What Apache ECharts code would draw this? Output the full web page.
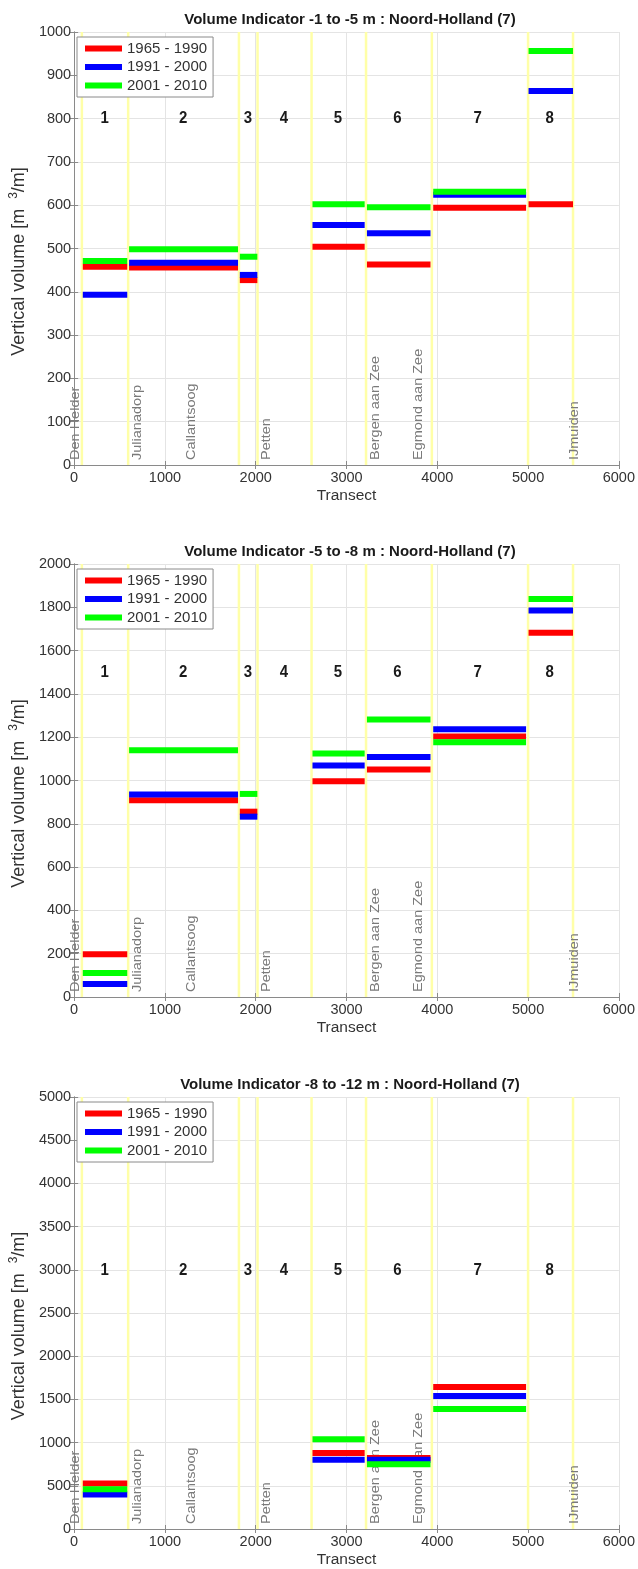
<!DOCTYPE html>
<html>
<head>
<meta charset="utf-8">
<script src="https://cdn.jsdelivr.net/npm/echarts@6/dist/echarts.min.js"></script>
<style>
html,body{margin:0;padding:0;background:#fff;}
#chart{width:638px;height:1569px;}
</style>
</head>
<body>
<div id="chart"></div>
<script>
// ---------------- DATA ----------------
const panelTitles = [
  'Volume Indicator -1 to -5 m : Noord-Holland (7)',
  'Volume Indicator -5 to -8 m : Noord-Holland (7)',
  'Volume Indicator -8 to -12 m : Noord-Holland (7)'
];
const yMaxes = [1000, 2000, 5000];
const yIntervals = [100, 200, 500];
const sectorLabelY = [800, 1500, 3000];

const periods = ['1965 - 1990', '1991 - 2000', '2001 - 2010'];
const periodColors = ['#ff0000', '#0000ff', '#00ff00'];

const sectorNames = ['1', '2', '3', '4', '5', '6', '7', '8'];
const sectorLabelX = [335, 1200, 1914, 2311, 2904, 3562, 4445, 5237];
const sectorStart = [95, 605, 1825, 2025, 2625, 3225, 3955, 5005];
const sectorEnd   = [585, 1805, 2018, 2610, 3200, 3925, 4978, 5495];

const boundaries = [85, 595, 1815, 2020, 2615, 3215, 3940, 5000, 5495];

const placeNames = ['Den Helder', 'Julianadorp', 'Callantsoog', 'Petten', 'Bergen aan Zee', 'Egmond aan Zee', 'IJmuiden'];
const placeX = [15, 695, 1291, 2120, 3318, 3793, 5510];

// panel 1 (-1 to -5 m)
const p1_1965 = [458, 456, 427, null, 504, 463, 594, 602];
const p1_1991 = [393, 467, 439, null, 554, 535, 624, 864];
const p1_2001 = [471, 498, 481, null, 602, 595, 631, 956];
// panel 2 (-5 to -8 m)
const p2_1965 = [197, 909, 856, null, 997, 1051, 1203, 1683];
const p2_1991 = [60, 935, 833, null, 1069, 1109, 1237, 1785];
const p2_2001 = [111, 1140, 938, null, 1125, 1282, 1177, 1838];
// panel 3 (-8 to -12 m)
const p3_1965 = [527, null, null, null, 880, 822, 1643, null];
const p3_1991 = [399, null, null, null, 802, 802, 1539, null];
const p3_2001 = [461, null, null, null, 1039, 748, 1388, null];

const panelValues = [
  [p1_1965, p1_1991, p1_2001],
  [p2_1965, p2_1991, p2_2001],
  [p3_1965, p3_1991, p3_2001]
];

// ---------------- LAYOUT ----------------
const FONT = 'Liberation Sans, Arial, Helvetica, sans-serif';
const gridLeft = 71, gridWidth = 548;
const gridTops = [32, 564, 1097];
const gridHeights = [433, 433, 432];
const axisColor = '#8a8a8a';
const textColor = '#333333';

const chart = echarts.init(document.getElementById('chart'), null, {renderer: 'canvas'});

const grids = [], xAxes = [], yAxes = [], series = [], titles = [], legends = [];

for (let p = 0; p < 3; p++) {
  grids.push({left: gridLeft, width: gridWidth, top: gridTops[p], height: gridHeights[p], containLabel: false});
  titles.push({
    text: panelTitles[p], left: gridLeft + gridWidth / 2, top: gridTops[p] - 25, textAlign: 'center',
    textStyle: {fontFamily: FONT, fontSize: 15, fontWeight: 'bold', color: '#1a1a1a'}
  });
  // bottom x
  xAxes.push({
    type: 'value', gridIndex: p, position: 'bottom', min: 0, max: 6000, interval: 1000,
    name: 'Transect', nameLocation: 'middle', nameGap: 23,
    nameTextStyle: {fontFamily: FONT, fontSize: 15.5, color: textColor},
    axisLine: {show: true, lineStyle: {color: axisColor, width: 1}},
    axisTick: {show: true, inside: true, length: 4, lineStyle: {color: axisColor}},
    axisLabel: {fontFamily: FONT, fontSize: 14.5, color: textColor, margin: 5, formatter: v => String(v)},
    splitLine: {show: true, lineStyle: {color: '#e4e4e4', width: 1}}
  });
  // top x (box)
  xAxes.push({
    type: 'value', gridIndex: p, position: 'top', min: 0, max: 6000, interval: 1000,
    axisLine: {show: true, lineStyle: {color: axisColor, width: 1}},
    axisTick: {show: true, inside: true, length: 4, lineStyle: {color: axisColor}},
    axisLabel: {show: false}, splitLine: {show: false}
  });
  // left y
  yAxes.push({
    type: 'value', gridIndex: p, position: 'left', min: 0, max: yMaxes[p], interval: yIntervals[p],
    name: 'Vertical volume [m  {sup|3}/m]', nameLocation: 'middle', nameGap: 41,
    nameTextStyle: {fontFamily: FONT, fontSize: 18, color: textColor, padding: [0, 26, 0, 0],
      rich: {sup: {fontFamily: FONT, fontSize: 12, color: textColor, verticalAlign: 'bottom', padding: [0, 0, 10, 0]}}},
    axisLine: {show: true, lineStyle: {color: axisColor, width: 1}},
    axisTick: {show: true, inside: true, length: 4, lineStyle: {color: axisColor}},
    axisLabel: {fontFamily: FONT, fontSize: 14.5, color: textColor, margin: 3, formatter: v => String(v)},
    splitLine: {show: true, lineStyle: {color: '#e4e4e4', width: 1}}
  });
  // right y (box)
  yAxes.push({
    type: 'value', gridIndex: p, position: 'right', min: 0, max: yMaxes[p], interval: yIntervals[p],
    axisLine: {show: true, lineStyle: {color: axisColor, width: 1}},
    axisTick: {show: true, inside: true, length: 4, lineStyle: {color: axisColor}},
    axisLabel: {show: false}, splitLine: {show: false}
  });

  const xi = 2 * p, yi = 2 * p;
  const yMax = yMaxes[p];

  // yellow sector boundary lines
  series.push({
    type: 'custom', name: 'boundaries', xAxisIndex: xi, yAxisIndex: yi, silent: true, z: 1,
    data: boundaries.map(b => [b]),
    encode: {x: 0},
    renderItem: function (params, api) {
      const x = api.value(0);
      const a = api.coord([x, 0]);
      const b = api.coord([x, yMax]);
      return {type: 'line', shape: {x1: a[0], y1: a[1], x2: b[0], y2: b[1]},
        style: {stroke: '#ffffa8', lineWidth: 2.5}};
    }
  });

  // place name labels (rotated)
  series.push({
    type: 'custom', name: 'places', xAxisIndex: xi, yAxisIndex: yi, silent: true, z: 3,
    data: placeX.map((x, i) => [x, 0, i]),
    encode: {x: 0, y: 1},
    renderItem: function (params, api) {
      const c = api.coord([api.value(0), api.value(1)]);
      return {type: 'text', x: c[0], y: c[1] - 5, rotation: Math.PI / 2, scaleX: 1.16, scaleY: 1,
        style: {text: placeNames[api.value(2)], fill: '#7a7a7a', fontFamily: FONT, fontSize: 12.5,
          align: 'left', verticalAlign: 'middle'}};
    }
  });

  // sector numbers
  series.push({
    type: 'custom', name: 'sectors', xAxisIndex: xi, yAxisIndex: yi, silent: true, z: 3,
    data: sectorLabelX.map((x, i) => [x, sectorLabelY[p], i]),
    encode: {x: 0, y: 1},
    renderItem: function (params, api) {
      const c = api.coord([api.value(0), api.value(1)]);
      return {type: 'text', x: c[0], y: c[1], scaleX: 1, scaleY: 1.15,
        style: {text: sectorNames[api.value(2)], fill: '#1a1a1a', fontFamily: FONT, fontSize: 15, fontWeight: 'bold',
          align: 'center', verticalAlign: 'middle'}};
    }
  });

  // period bars
  for (let k = 0; k < 3; k++) {
    const vals = panelValues[p][k];
    const data = [];
    vals.forEach((v, i) => { if (v !== null) data.push([sectorStart[i], sectorEnd[i], v]); });
    series.push({
      type: 'custom', name: periods[k], xAxisIndex: xi, yAxisIndex: yi, z: 5 + k,
      itemStyle: {color: periodColors[k]},
      data: data,
      encode: {x: [0, 1], y: 2},
      renderItem: function (params, api) {
        const s = api.coord([api.value(0), api.value(2)]);
        const e = api.coord([api.value(1), api.value(2)]);
        return {type: 'rect', shape: {x: s[0], y: s[1] - 3, width: e[0] - s[0], height: 6},
          style: {fill: periodColors[k]}};
      }
    });
  }

  legends.push({
    left: 77, top: gridTops[p] + 5, orient: 'vertical',
    data: periods.map((n, k) => ({name: n, icon: 'rect', itemStyle: {color: periodColors[k]}})),
    itemWidth: 37, itemHeight: 6, itemGap: 1.5,
    padding: [3, 6, 3, 8],
    backgroundColor: '#ffffff', borderColor: '#8a8a8a', borderWidth: 1,
    textStyle: {fontFamily: FONT, fontSize: 15, color: textColor, lineHeight: 17},
    selectedMode: false
  });
}

chart.setOption({
  animation: false,
  backgroundColor: '#ffffff',
  title: titles,
  grid: grids,
  xAxis: xAxes,
  yAxis: yAxes,
  legend: legends,
  series: series
});
</script>
</body>
</html>
